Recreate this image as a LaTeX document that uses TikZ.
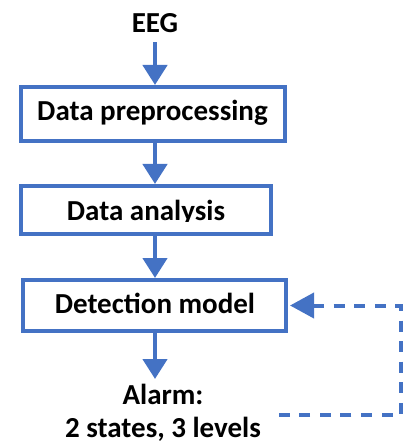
\documentclass[tikz,border=0pt]{standalone}
\usepackage{fontspec}
\setmainfont{Carlito}
\usetikzlibrary{arrows.meta}
\definecolor{flowblue}{HTML}{4472C4}
\begin{document}
\begin{tikzpicture}[x=1pt,y=-1pt,
  box/.style={draw=flowblue, line width=4pt, inner sep=0pt, fill=white},
  lbl/.style={anchor=base, inner sep=0pt, font=\fontsize{29}{35}\selectfont\bfseries},
  flow/.style={draw=flowblue, line width=4.5pt, -{Triangle[length=20pt,width=24pt]}},
  feedback/.style={draw=flowblue, line width=4pt, dash pattern=on 11pt off 9.6pt,
    {Triangle[length=24pt,width=25pt]}-, shorten <=2pt}
]
\useasboundingbox (0,0) rectangle (404,443);

% processing stages
\node[box, minimum width=264pt, minimum height=54pt] (pre) at (153,114) {};
\node[box, minimum width=250pt, minimum height=48pt] (ana) at (146,210) {};
\node[box, minimum width=263pt, minimum height=51pt] (det) at (154.5,305.5) {};

% labels
\node[lbl] (eeg) at (155,32.3) {EEG};
\node[lbl] (pretxt) at (152.5,120.7) {Data preprocessing};
\begin{scope}
  \clip (0,180) rectangle (404,221);
  \node[lbl] (anatxt) at (146,220) {Data analysis};
\end{scope}
\node[lbl] (dettxt) at (155,313.3) {Detection model};
\node[lbl] (alarm1) at (163,404) {Alarm:};
\node[lbl] (alarm2) at (163,437.5) {2 states, 3 levels};

% main flow
\coordinate (col) at (155,0);
\coordinate (alarmtip) at (155,379);
\draw[flow] ([yshift=-10pt]eeg.base) -- (pre.north -| col);
\draw[flow] (pre.south -| col) -- (ana.north -| col);
\draw[flow] (ana.south -| col) -- (det.north -| col);
\draw[flow] (det.south -| col) -- (alarmtip);

% feedback loop from the alarm back to the model
\coordinate (fbstart) at (278,415);
\coordinate (fbcorner) at (401,415);
\draw[feedback] (det.east) -- (det.east -| fbcorner) -- (fbcorner) -- (fbstart);
\end{tikzpicture}
\end{document}
